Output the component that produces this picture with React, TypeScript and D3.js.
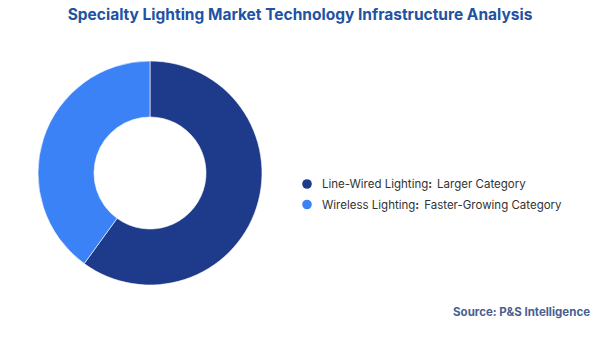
import React, { useEffect, useRef } from 'react';
import * as d3 from 'd3';

const categories = ['Line-Wired Lighting', 'Wireless Lighting'];
const descriptions = ['Larger Category', 'Faster-Growing Category'];
const shares = [60, 40];
const colors = ['#1e3a8a', '#3b82f6'];

const W = 600;
const H = 337;

export default function App() {
  const ref = useRef<SVGSVGElement>(null);

  useEffect(() => {
    const svg = d3.select(ref.current);
    svg.selectAll('*').remove();
    const font = 'Inter, "Noto Sans", sans-serif';

    // title
    svg
      .append('text')
      .attr('x', W / 2)
      .attr('y', 20)
      .attr('text-anchor', 'middle')
      .attr('font-family', font)
      .attr('font-size', 15.5)
      .attr('font-weight', 700)
      .attr('fill', '#2152a3')
      .text('Specialty Lighting Market Technology Infrastructure Analysis');

    // donut
    const data = categories.map((c, i) => ({ name: c, value: shares[i], color: colors[i] }));
    const pie = d3
      .pie<any>()
      .sort(null)
      .value((d) => d.value);
    const arc = d3.arc<any>().innerRadius(56).outerRadius(112);

    const g = svg.append('g').attr('transform', 'translate(150,173)');
    g.selectAll('path')
      .data(pie(data))
      .enter()
      .append('path')
      .attr('d', arc)
      .attr('fill', (d: any) => d.data.color)
      .attr('stroke', '#ffffff')
      .attr('stroke-width', 0.6);

    // legend
    const legend = svg.append('g').attr('transform', 'translate(307,184)');
    const items = legend
      .selectAll('g')
      .data(data)
      .enter()
      .append('g')
      .attr('transform', (_d, i) => `translate(0,${i * 20.5})`);
    items
      .append('circle')
      .attr('r', 4.8)
      .attr('fill', (d) => d.color);
    const label = items
      .append('text')
      .attr('x', 15)
      .attr('y', 4)
      .attr('font-family', font)
      .attr('font-size', 11.5)
      .attr('fill', '#333333');
    label.append('tspan').text((d) => d.name);
    label.append('tspan').attr('font-weight', 700).text(':');
    label
      .append('tspan')
      .attr('dx', 5)
      .text((_d, i) => descriptions[i]);

    // source note
    svg
      .append('text')
      .attr('x', 590)
      .attr('y', 316)
      .attr('text-anchor', 'end')
      .attr('font-family', font)
      .attr('font-size', 11.5)
      .attr('font-weight', 700)
      .attr('fill', '#4a5f8f')
      .text('Source: P&S Intelligence');
  }, []);

  return (
    <svg
      ref={ref}
      width={W}
      height={H}
      style={{ position: 'absolute', left: 0, top: 0, background: '#ffffff' }}
    />
  );
}
